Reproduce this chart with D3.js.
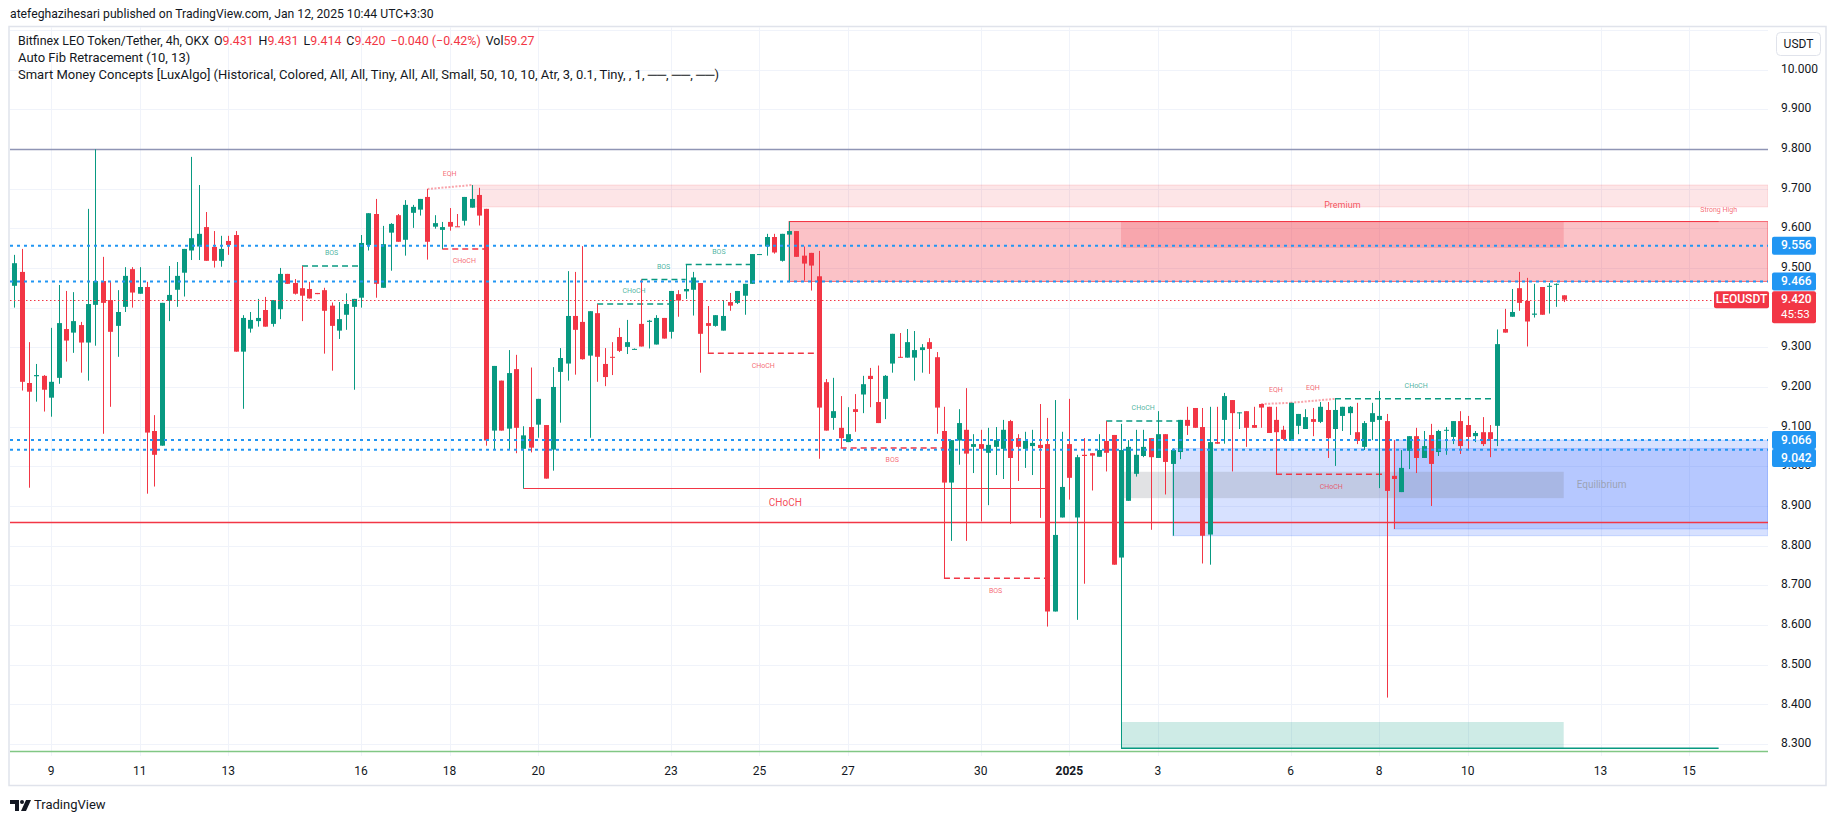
<!DOCTYPE html>
<html>
<head>
<meta charset="utf-8">
<script src="https://cdn.jsdelivr.net/npm/d3@7"></script>
<style>
  body { margin: 0; background: #ffffff; }
  svg { display: block; font-family: Roboto, "Liberation Sans", sans-serif; }
</style>
</head>
<body>
<div id="chart"></div>
<script>

// 4h candles, LEO/USDT, first candle Dec 8 2024 04:00
let opens = [
  9.455, 9.490, 9.210, 9.227, 9.228, 9.173, 9.223, 9.346, 9.337, 9.356,
  9.312, 9.407, 9.467, 9.419, 9.354, 9.402, 9.497, 9.435, 9.452, 9.089,
  9.052, 9.417, 9.445, 9.488, 9.544, 9.554, 9.603, 9.553, 9.518, 9.568,
  9.583, 9.289, 9.347, 9.366, 9.394, 9.359, 9.396, 9.485, 9.462, 9.449,
  9.447, 9.437, 9.444, 9.405, 9.342, 9.382, 9.402, 9.425, 9.558, 9.636,
  9.450, 9.589, 9.633, 9.571, 9.639, 9.647, 9.679, 9.604, 9.596, 9.616,
  9.605, 9.619, 9.652, 9.684, 9.649, 9.090, 9.216, 9.095, 9.245, 9.044,
  9.099, 9.105, 9.104, 9.042, 9.238, 9.259, 9.379, 9.364, 9.279, 9.386,
  9.258, 9.276, 9.326, 9.301, 9.295, 9.359, 9.364, 9.307, 9.374, 9.339,
  9.434, 9.441, 9.445, 9.462, 9.361, 9.354, 9.342, 9.414, 9.412, 9.430,
  9.460, 9.534, 9.554, 9.578, 9.518, 9.584, 9.593, 9.531, 9.538, 9.479,
  9.212, 9.122, 9.097, 9.061, 9.144, 9.181, 9.228, 9.162, 9.170, 9.259,
  9.276, 9.274, 9.274, 9.293, 9.313, 9.275, 9.089, 8.959, 9.065, 9.092,
  9.049, 9.056, 9.034, 9.049, 9.044, 9.114, 9.071, 9.044, 9.051, 9.054,
  9.056, 8.634, 8.871, 9.056, 8.871, 9.029, 9.033, 9.024, 9.064, 9.079,
  8.770, 8.913, 8.981, 9.026, 9.071, 9.021, 9.081, 9.006, 9.036, 9.117,
  9.147, 9.099, 8.828, 9.061, 9.117, 9.167, 9.135, 9.139, 9.104, 9.157,
  9.150, 9.117, 9.092, 9.064, 9.102, 9.094, 9.119, 9.112, 9.142, 9.094,
  9.127, 9.134, 9.086, 9.049, 9.112, 9.117, 9.114, 8.976, 8.935, 9.039,
  9.076, 9.021, 9.079, 9.036, 9.091, 9.074, 9.114, 9.104, 9.076, 9.086,
  9.086, 9.102, 9.346, 9.377, 9.449, 9.417, 9.382, 9.452, 9.453, 9.459, 9.431
];
let highs = [
  9.533, 9.548, 9.313, 9.258, 9.230, 9.349, 9.457, 9.442, 9.439, 9.364,
  9.649, 9.799, 9.528, 9.467, 9.444, 9.502, 9.502, 9.502, 9.465, 9.129,
  9.412, 9.505, 9.515, 9.548, 9.780, 9.709, 9.641, 9.593, 9.581, 9.581,
  9.593, 9.381, 9.389, 9.422, 9.427, 9.419, 9.500, 9.485, 9.472, 9.505,
  9.465, 9.437, 9.450, 9.413, 9.414, 9.436, 9.422, 9.583, 9.638, 9.674,
  9.606, 9.613, 9.636, 9.671, 9.659, 9.674, 9.699, 9.633, 9.616, 9.651,
  9.636, 9.679, 9.709, 9.702, 9.649, 9.253, 9.216, 9.293, 9.281, 9.101,
  9.249, 9.170, 9.104, 9.250, 9.298, 9.492, 9.490, 9.555, 9.391, 9.409,
  9.298, 9.313, 9.349, 9.369, 9.297, 9.471, 9.369, 9.381, 9.374, 9.442,
  9.444, 9.509, 9.490, 9.462, 9.404, 9.381, 9.419, 9.437, 9.442, 9.460,
  9.535, 9.535, 9.586, 9.586, 9.586, 9.617, 9.593, 9.554, 9.538, 9.543,
  9.220, 9.223, 9.177, 9.149, 9.182, 9.228, 9.248, 9.254, 9.230, 9.334,
  9.336, 9.346, 9.341, 9.308, 9.323, 9.288, 9.150, 9.066, 9.144, 9.197,
  9.081, 9.092, 9.097, 9.099, 9.117, 9.117, 9.081, 9.087, 9.092, 9.157,
  9.122, 9.167, 9.087, 9.170, 9.029, 9.071, 9.033, 9.081, 9.114, 9.079,
  9.107, 9.066, 9.092, 9.092, 9.071, 9.139, 9.081, 9.045, 9.117, 9.150,
  9.147, 9.147, 9.150, 9.150, 9.185, 9.167, 9.136, 9.139, 9.150, 9.157,
  9.150, 9.150, 9.102, 9.160, 9.132, 9.144, 9.147, 9.162, 9.162, 9.170,
  9.150, 9.152, 9.160, 9.114, 9.160, 9.190, 9.132, 9.066, 9.041, 9.076,
  9.097, 9.089, 9.107, 9.092, 9.099, 9.114, 9.139, 9.127, 9.089, 9.124,
  9.104, 9.345, 9.397, 9.447, 9.490, 9.475, 9.460, 9.452, 9.462, 9.461, 9.431
];
let lows = [
  9.400, 9.191, 8.946, 9.163, 9.138, 9.125, 9.208, 9.264, 9.286, 9.236,
  9.216, 9.304, 9.082, 9.150, 9.276, 9.389, 9.400, 9.435, 8.931, 8.949,
  9.052, 9.366, 9.402, 9.428, 9.520, 9.520, 9.518, 9.501, 9.503, 9.533,
  9.289, 9.145, 9.337, 9.352, 9.352, 9.352, 9.371, 9.460, 9.433, 9.366,
  9.423, 9.434, 9.284, 9.241, 9.321, 9.344, 9.193, 9.400, 9.544, 9.425,
  9.450, 9.493, 9.566, 9.531, 9.601, 9.632, 9.521, 9.599, 9.548, 9.594,
  9.604, 9.607, 9.652, 9.607, 9.052, 9.042, 9.090, 9.042, 9.033, 8.944,
  9.035, 9.072, 8.969, 8.989, 9.110, 9.216, 9.231, 9.269, 9.072, 9.213,
  9.202, 9.230, 9.288, 9.283, 9.294, 9.302, 9.297, 9.307, 9.322, 9.322,
  9.377, 9.422, 9.380, 9.236, 9.285, 9.352, 9.342, 9.392, 9.409, 9.382,
  9.460, 9.534, 9.531, 9.536, 9.516, 9.464, 9.528, 9.468, 9.443, 9.019,
  9.090, 9.092, 9.046, 9.061, 9.087, 9.134, 9.149, 9.109, 9.119, 9.236,
  9.274, 9.274, 9.216, 9.236, 9.233, 9.082, 8.718, 8.812, 9.004, 8.812,
  8.983, 8.861, 8.902, 8.978, 8.968, 8.855, 8.963, 8.996, 8.978, 8.870,
  8.596, 8.634, 8.871, 8.916, 8.613, 8.704, 8.939, 9.024, 8.987, 8.752,
  8.289, 8.913, 8.974, 9.023, 8.840, 9.021, 8.929, 8.825, 9.018, 9.079,
  9.097, 8.755, 8.752, 9.057, 9.057, 8.987, 9.094, 9.049, 9.097, 9.097,
  9.084, 8.980, 9.066, 9.064, 9.081, 9.094, 9.076, 9.109, 9.021, 9.001,
  9.089, 9.079, 9.056, 9.041, 9.066, 8.945, 8.417, 8.842, 8.935, 8.993,
  8.983, 9.021, 8.900, 9.026, 9.029, 9.056, 9.031, 9.041, 9.061, 9.051,
  9.023, 9.051, 9.337, 9.377, 9.392, 9.302, 9.375, 9.382, 9.385, 9.402, 9.414
];
let closes = [
  9.512, 9.213, 9.188, 9.230, 9.193, 9.213, 9.361, 9.317, 9.366, 9.312,
  9.409, 9.467, 9.412, 9.339, 9.389, 9.480, 9.438, 9.452, 9.085, 9.029,
  9.412, 9.432, 9.480, 9.548, 9.575, 9.586, 9.518, 9.518, 9.548, 9.558,
  9.289, 9.374, 9.369, 9.374, 9.352, 9.419, 9.485, 9.460, 9.435, 9.430,
  9.423, 9.434, 9.392, 9.354, 9.371, 9.409, 9.422, 9.563, 9.638, 9.460,
  9.560, 9.611, 9.566, 9.659, 9.654, 9.674, 9.566, 9.613, 9.603, 9.604,
  9.604, 9.679, 9.674, 9.632, 9.065, 9.253, 9.090, 9.235, 9.097, 9.078,
  9.047, 9.170, 8.969, 9.200, 9.273, 9.379, 9.344, 9.270, 9.391, 9.276,
  9.225, 9.274, 9.291, 9.313, 9.296, 9.302, 9.367, 9.374, 9.322, 9.442,
  9.418, 9.447, 9.476, 9.334, 9.354, 9.381, 9.379, 9.405, 9.442, 9.460,
  9.535, 9.535, 9.578, 9.539, 9.586, 9.593, 9.528, 9.511, 9.506, 9.148,
  9.090, 9.139, 9.071, 9.081, 9.137, 9.207, 9.220, 9.109, 9.228, 9.334,
  9.274, 9.313, 9.293, 9.300, 9.296, 9.148, 8.959, 9.066, 9.109, 9.032,
  9.056, 9.044, 9.054, 9.066, 9.092, 9.021, 9.049, 9.064, 9.059, 9.046,
  8.634, 8.827, 8.948, 8.971, 9.023, 9.026, 9.027, 9.041, 9.034, 8.752,
  9.041, 9.049, 9.029, 9.049, 9.023, 9.081, 9.011, 9.041, 9.117, 9.102,
  9.097, 8.825, 9.061, 9.057, 9.177, 9.134, 9.136, 9.097, 9.097, 9.148,
  9.084, 9.086, 9.069, 9.160, 9.132, 9.124, 9.112, 9.150, 9.071, 9.142,
  9.150, 9.150, 9.064, 9.109, 9.134, 9.127, 8.938, 8.968, 8.996, 9.076,
  9.021, 9.051, 9.006, 9.089, 9.092, 9.114, 9.051, 9.074, 9.084, 9.056,
  9.069, 9.308, 9.337, 9.389, 9.412, 9.365, 9.385, 9.382, 9.455, 9.460, 9.420
];

let priceTicks = [10.0, 9.9, 9.8, 9.7, 9.6, 9.5, 9.4, 9.3, 9.2, 9.1, 9.0, 8.9, 8.8, 8.7, 8.6, 8.5, 8.4, 8.3];
let dayTicks = ["2024-12-09", "2024-12-11", "2024-12-13", "2024-12-16", "2024-12-18", "2024-12-20",
                "2024-12-23", "2024-12-25", "2024-12-27", "2024-12-30", "2025-01-01", "2025-01-03",
                "2025-01-06", "2025-01-08", "2025-01-10", "2025-01-13", "2025-01-15"];
let dayLabels = ["9", "11", "13", "16", "18", "20", "23", "25", "27", "30", "2025", "3", "6", "8", "10", "13", "15"];

// horizontal price lines drawn by the author
let priceLines = [9.556, 9.466, 9.066, 9.042];
// auto fib levels that are visible
let fibPrices = [9.800, 8.860, 8.282];
let fibColors = ["#8f95b5", "#f23645", "#81c784"];

// market structure: [from candle, to candle, price, label, bullish]
let internalBreaks = [
  [39, 47, 9.505, "BOS", true],
  [79, 89, 9.409, "CHoCH", true],
  [85, 91, 9.471, "BOS", true],
  [91, 100, 9.509, "BOS", true],
  [148, 158, 9.114, "CHoCH", true],
  [179, 201, 9.170, "CHoCH", true],
  [58, 64, 9.548, "CHoCH", false],
  [94, 109, 9.285, "CHoCH", false],
  [112, 126, 9.046, "BOS", false],
  [126, 140, 8.718, "BOS", false],
  [171, 186, 8.980, "CHoCH", false]
];
let swingBreaks = [[69, 140, 8.944, "CHoCH", false]];
let equalHighs = [[56, 62, 9.699, 9.709], [169, 173, 9.157, 9.160], [173, 179, 9.160, 9.170]];

// order blocks: [from candle, top, bottom]
let bearBlocks = [[62, 9.709, 9.654], [105, 9.617, 9.466]];
let bullBlocks = [[157, 9.045, 8.825], [187, 9.066, 8.842]];

// trailing extremes for premium / discount
let trailTop = 9.617, trailTopIdx = 105;
let trailBottom = 8.289, trailBottomIdx = 150;

let lastPrice = 9.420;

let W = 1835, H = 821;
let plot = {left: 10, right: 1768, top: 27, bottom: 756};
let green = "#089981", red = "#f23645", blue = "#2196f3", ink = "#131722";

let svg = d3.select("#chart").append("svg")
    .attr("width", W)
    .attr("height", H);

svg.append("rect").attr("width", W).attr("height", H).attr("fill", "#fff");

let hour = 3600 * 1000;
let t0 = Date.UTC(2024, 11, 8, 4);
let n = opens.length;

let x = d3.scaleUtc()
    .domain([new Date(t0), new Date(t0 + (n - 1) * 4 * hour)])
    .range([14.3, 1563.7]);
let y = d3.scaleLinear().domain([8.3, 10.0]).range([744, 69.6]);

function xi(i) { return x(new Date(t0 + i * 4 * hour)); }

let candles = d3.range(n).map(function(i) {
    return {i: i, o: opens[i], h: highs[i], l: lows[i], c: closes[i]};
});

svg.append("defs").append("clipPath").attr("id", "plotClip")
    .append("rect")
    .attr("x", plot.left).attr("y", plot.top)
    .attr("width", plot.right - plot.left).attr("height", plot.bottom - plot.top);

// frame
svg.append("rect")
    .attr("x", 9).attr("y", 26.5)
    .attr("width", 1817).attr("height", 759)
    .attr("fill", "none").attr("stroke", "#e0e3eb").attr("stroke-width", 1.5);

let g = svg.append("g").attr("clip-path", "url(#plotClip)");

// grid
let parseDay = d3.utcParse("%Y-%m-%d");
let dayDates = dayTicks.map(parseDay);

g.selectAll(".hgrid").data(priceTicks.concat([10.1])).enter().append("line")
    .attr("x1", plot.left).attr("x2", plot.right)
    .attr("y1", function(d) { return Math.round(y(d)) + 0.5; })
    .attr("y2", function(d) { return Math.round(y(d)) + 0.5; })
    .attr("stroke", "#f0f3fa");

g.selectAll(".vgrid").data(dayDates).enter().append("line")
    .attr("x1", function(d) { return Math.round(x(d)) + 0.5; })
    .attr("x2", function(d) { return Math.round(x(d)) + 0.5; })
    .attr("y1", plot.top).attr("y2", plot.bottom)
    .attr("stroke", "#f0f3fa");

// order blocks
g.selectAll(".bear").data(bearBlocks).enter().append("rect")
    .attr("x", function(d) { return xi(d[0]); })
    .attr("y", function(d) { return y(d[1]); })
    .attr("width", function(d) { return plot.right - xi(d[0]); })
    .attr("height", function(d) { return y(d[2]) - y(d[1]); })
    .attr("fill", red)
    .attr("fill-opacity", function(d, i) { return i === 0 ? 0.13 : 0.3; })
    .attr("stroke", red)
    .attr("stroke-opacity", function(d, i) { return i === 0 ? 0.15 : 0.7; });

g.selectAll(".bull").data(bullBlocks).enter().append("rect")
    .attr("x", function(d) { return xi(d[0]); })
    .attr("y", function(d) { return y(d[1]); })
    .attr("width", function(d) { return plot.right - xi(d[0]); })
    .attr("height", function(d) { return y(d[2]) - y(d[1]); })
    .attr("fill", "#2962ff")
    .attr("fill-opacity", 0.19)
    .attr("stroke", "#2962ff")
    .attr("stroke-opacity", 0.2);

// premium / equilibrium / discount zones
let span = trailTop - trailBottom;
let zones = [
    {top: trailTop, bottom: trailTop - 0.05 * span, fill: red, op: 0.2},
    {top: trailBottom + 0.525 * span, bottom: trailBottom + 0.475 * span, fill: "#787b86", op: 0.22},
    {top: trailBottom + 0.05 * span, bottom: trailBottom, fill: green, op: 0.2}
];
let zoneLeft = xi(Math.max(trailTopIdx, trailBottomIdx)), zoneRight = xi(n - 1);
g.selectAll(".zone").data(zones).enter().append("rect")
    .attr("x", zoneLeft)
    .attr("y", function(d) { return y(d.top); })
    .attr("width", zoneRight - zoneLeft)
    .attr("height", function(d) { return y(d.bottom) - y(d.top); })
    .attr("fill", function(d) { return d.fill; })
    .attr("fill-opacity", function(d) { return d.op; });

// fib levels
g.selectAll(".fib").data(fibPrices).enter().append("line")
    .attr("x1", plot.left).attr("x2", plot.right)
    .attr("y1", function(d) { return Math.round(y(d)) + 0.5; })
    .attr("y2", function(d) { return Math.round(y(d)) + 0.5; })
    .attr("stroke", function(d, i) { return fibColors[i]; })
    .attr("stroke-width", 1.3);

// strong high / strong low lines
g.append("line")
    .attr("x1", xi(trailTopIdx)).attr("x2", xi(n + 20))
    .attr("y1", y(trailTop)).attr("y2", y(trailTop))
    .attr("stroke", red).attr("stroke-width", 1);
g.append("line")
    .attr("x1", xi(trailBottomIdx)).attr("x2", xi(n + 20))
    .attr("y1", y(trailBottom)).attr("y2", y(trailBottom))
    .attr("stroke", green).attr("stroke-width", 1.5);

// structure breaks
function drawBreaks(list, swing) {
    list.forEach(function(d) {
        let col = d[4] ? green : red;
        let yy = y(d[2]);
        g.append("line")
            .attr("x1", xi(d[0])).attr("x2", xi(d[1]))
            .attr("y1", yy).attr("y2", yy)
            .attr("stroke", col).attr("stroke-width", swing ? 1.2 : 1.5)
            .attr("stroke-dasharray", swing ? null : "6 4");
        let off = swing ? 15 : 12.5;
        g.append("text")
            .attr("x", (xi(d[0]) + xi(d[1])) / 2)
            .attr("y", d[4] ? yy - off : yy + off)
            .attr("text-anchor", "middle")
            .attr("dominant-baseline", "middle")
            .attr("font-size", swing ? 10 : 7)
            .attr("fill", col)
            .attr("fill-opacity", swing ? 0.9 : 0.75)
            .text(d[3]);
    });
}
drawBreaks(internalBreaks, false);
drawBreaks(swingBreaks, true);

equalHighs.forEach(function(d) {
    g.append("line")
        .attr("x1", xi(d[0])).attr("x2", xi(d[1]))
        .attr("y1", y(d[2])).attr("y2", y(d[3]))
        .attr("stroke", red).attr("stroke-opacity", 0.45)
        .attr("stroke-width", 2).attr("stroke-dasharray", "2 1.5");
    g.append("text")
        .attr("x", (xi(d[0]) + xi(d[1])) / 2)
        .attr("y", (y(d[2]) + y(d[3])) / 2 - 13)
        .attr("text-anchor", "middle")
        .attr("dominant-baseline", "middle")
        .attr("font-size", 7)
        .attr("fill", red).attr("fill-opacity", 0.75)
        .text("EQH");
});

// zone labels
g.append("text")
    .attr("x", (zoneLeft + zoneRight) / 2).attr("y", y(trailTop) - 16)
    .attr("text-anchor", "middle").attr("dominant-baseline", "middle")
    .attr("font-size", 9).attr("fill", red).attr("fill-opacity", 0.85)
    .text("Premium");
g.append("text")
    .attr("x", xi(n + 20)).attr("y", y(trailTop) - 11)
    .attr("text-anchor", "middle").attr("dominant-baseline", "middle")
    .attr("font-size", 7).attr("fill", red).attr("fill-opacity", 0.75)
    .text("Strong High");
g.append("text")
    .attr("x", zoneRight + 13)
    .attr("y", (y(zones[1].top) + y(zones[1].bottom)) / 2)
    .attr("dominant-baseline", "middle")
    .attr("font-size", 10).attr("fill", "#9598a1").attr("fill-opacity", 0.8)
    .text("Equilibrium");

// candles
let bodyW = 5;
let candle = g.selectAll(".candle").data(candles).enter().append("g");
candle.append("line")
    .attr("x1", function(d) { return Math.round(xi(d.i)) + 0.5; })
    .attr("x2", function(d) { return Math.round(xi(d.i)) + 0.5; })
    .attr("y1", function(d) { return y(d.h); })
    .attr("y2", function(d) { return y(d.l); })
    .attr("stroke", function(d) { return d.c >= d.o ? green : red; })
    .attr("stroke-width", 1);
candle.append("rect")
    .attr("x", function(d) { return Math.round(xi(d.i)) + 0.5 - bodyW / 2; })
    .attr("y", function(d) { return y(Math.max(d.o, d.c)); })
    .attr("width", bodyW)
    .attr("height", function(d) { return Math.max(1, Math.abs(y(d.o) - y(d.c))); })
    .attr("fill", function(d) { return d.c >= d.o ? green : red; });

// author price lines and last price line
g.selectAll(".pline").data(priceLines).enter().append("line")
    .attr("x1", plot.left).attr("x2", plot.right)
    .attr("y1", function(d) { return y(d); })
    .attr("y2", function(d) { return y(d); })
    .attr("stroke", blue).attr("stroke-width", 2)
    .attr("stroke-dasharray", "3 4");

g.append("line")
    .attr("x1", plot.left).attr("x2", 1713)
    .attr("y1", Math.round(y(lastPrice)) + 0.5).attr("y2", Math.round(y(lastPrice)) + 0.5)
    .attr("stroke", red).attr("stroke-width", 1)
    .attr("stroke-dasharray", "1.5 2.5");

// price axis; the tick under the last price tag is hidden, like TradingView does
let ly = y(lastPrice);
let shownTicks = priceTicks.filter(function(d) {
    return !(y(d) > ly - 9 && y(d) < ly + 24);
});
svg.selectAll(".ptick").data(shownTicks).enter().append("text")
    .attr("x", 1781)
    .attr("y", function(d) { return y(d); })
    .attr("dominant-baseline", "middle")
    .attr("font-size", 12)
    .attr("fill", ink)
    .text(function(d) { return d3.format(".3f")(d); });

svg.append("rect")
    .attr("x", 1776.5).attr("y", 32.5).attr("width", 44).attr("height", 23).attr("rx", 4)
    .attr("fill", "#fff").attr("stroke", "#e0e3eb");
svg.append("text")
    .attr("x", 1798.5).attr("y", 44.5)
    .attr("text-anchor", "middle").attr("dominant-baseline", "middle")
    .attr("font-size", 12).attr("fill", ink)
    .text("USDT");

// price labels for the author lines, stacked when they collide
let tags = priceLines.map(function(p) { return {p: p, cy: y(p)}; })
    .sort(function(a, b) { return a.cy - b.cy; });
for (let k = 1; k < tags.length; k++) {
    if (tags[k].cy - tags[k - 1].cy < 18) tags[k].cy = tags[k - 1].cy + 18;
}
tags.forEach(function(t) {
    svg.append("rect")
        .attr("x", 1772).attr("y", t.cy - 9).attr("width", 44).attr("height", 18).attr("rx", 2)
        .attr("fill", blue);
    svg.append("text")
        .attr("x", 1781).attr("y", t.cy + 0.5)
        .attr("dominant-baseline", "middle")
        .attr("font-size", 12).attr("font-weight", 500).attr("fill", "#fff")
        .text(d3.format(".3f")(t.p));
});

svg.append("rect")
    .attr("x", 1772).attr("y", ly - 8.5).attr("width", 44).attr("height", 32).attr("rx", 2)
    .attr("fill", red);
svg.append("text")
    .attr("x", 1781).attr("y", ly + 0.5)
    .attr("dominant-baseline", "middle")
    .attr("font-size", 12).attr("font-weight", 500).attr("fill", "#fff")
    .text(d3.format(".3f")(lastPrice));
svg.append("text")
    .attr("x", 1781).attr("y", ly + 15.5)
    .attr("dominant-baseline", "middle")
    .attr("font-size", 11.5).attr("fill", "#fff")
    .text("45:53");
svg.append("rect")
    .attr("x", 1714).attr("y", ly - 8.5).attr("width", 55).attr("height", 17).attr("rx", 2)
    .attr("fill", red);
svg.append("text")
    .attr("x", 1741.5).attr("y", ly + 0.5)
    .attr("text-anchor", "middle").attr("dominant-baseline", "middle")
    .attr("font-size", 12).attr("font-weight", 500).attr("fill", "#fff")
    .text("LEOUSDT");

// time axis
svg.selectAll(".ttick").data(dayDates).enter().append("text")
    .attr("x", function(d) { return x(d); })
    .attr("y", 772)
    .attr("text-anchor", "middle")
    .attr("dominant-baseline", "middle")
    .attr("font-size", 12)
    .attr("font-weight", function(d, i) { return dayLabels[i] === "2025" ? 700 : 400; })
    .attr("fill", ink)
    .text(function(d, i) { return dayLabels[i]; });

// header and legend
svg.append("text")
    .attr("x", 10).attr("y", 15)
    .attr("dominant-baseline", "middle")
    .attr("font-size", 12.2).attr("fill", ink)
    .text("atefeghazihesari published on TradingView.com, Jan 12, 2025 10:44 UTC+3:30");

let legend = svg.append("text")
    .attr("x", 18).attr("y", 42)
    .attr("dominant-baseline", "middle")
    .attr("font-size", 12.4).attr("fill", ink);
legend.append("tspan").text("Bitfinex LEO Token/Tether, 4h, OKX");
let ohlc = [["O", "9.431"], ["H", "9.431"], ["L", "9.414"], ["C", "9.420"]];
ohlc.forEach(function(d) {
    legend.append("tspan").attr("dx", 5).text(d[0]);
    legend.append("tspan").attr("fill", red).text(d[1]);
});
legend.append("tspan").attr("dx", 5).attr("fill", red).text("\u22120.040 (\u22120.42%)");
legend.append("tspan").attr("dx", 5).text("Vol");
legend.append("tspan").attr("fill", red).text("59.27");

svg.append("text")
    .attr("x", 18).attr("y", 59)
    .attr("dominant-baseline", "middle")
    .attr("font-size", 13).attr("fill", ink)
    .text("Auto Fib Retracement (10, 13)");
svg.append("text")
    .attr("x", 18).attr("y", 76)
    .attr("dominant-baseline", "middle")
    .attr("font-size", 13).attr("fill", ink)
    .text("Smart Money Concepts [LuxAlgo] (Historical, Colored, All, All, Tiny, All, All, Small, 50, 10, 10, Atr, 3, 0.1, Tiny, , 1, \u2500\u2500, \u2500\u2500, \u2500\u2500)");

// TradingView mark
let logo = svg.append("g").attr("fill", ink);
logo.append("path").attr("d", "M10 800 h9 v11 h-4 v-7 h-5 z");
logo.append("circle").attr("cx", 22).attr("cy", 802).attr("r", 2);
logo.append("path").attr("d", "M26 800 h5 l-5 11 h-5 z");
svg.append("text")
    .attr("x", 34).attr("y", 806)
    .attr("dominant-baseline", "middle")
    .attr("font-size", 13).attr("fill", ink)
    .text("TradingView");

</script>
</body>
</html>
